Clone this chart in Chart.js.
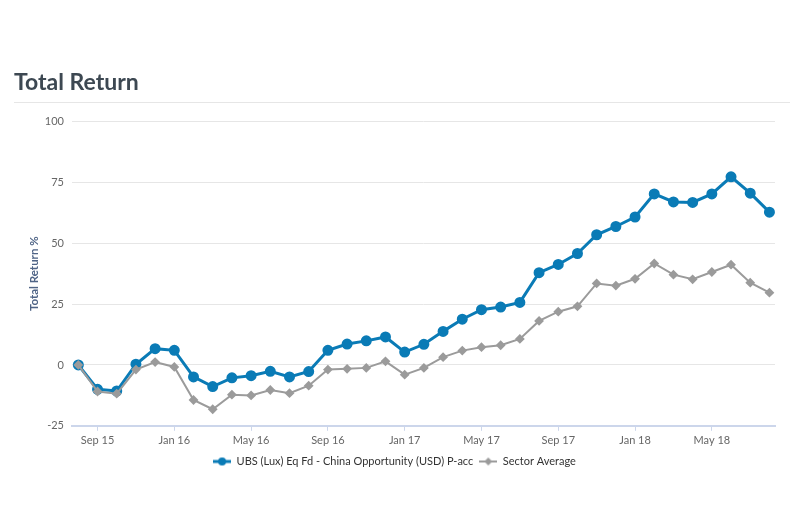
<!DOCTYPE html>
<html><head><meta charset="utf-8">
<script src="https://cdn.jsdelivr.net/npm/chart.js@4/dist/chart.umd.min.js"></script>
<style>html,body{margin:0;padding:0;background:#fff}#wrap{width:790px;height:527px;position:relative}</style>
</head><body><div id="wrap"><canvas id="c"></canvas></div>
<script>
const months = ['Aug 15','Sep 15','Oct 15','Nov 15','Dec 15','Jan 16','Feb 16','Mar 16','Apr 16','May 16','Jun 16','Jul 16','Aug 16','Sep 16','Oct 16','Nov 16','Dec 16','Jan 17','Feb 17','Mar 17','Apr 17','May 17','Jun 17','Jul 17','Aug 17','Sep 17','Oct 17','Nov 17','Dec 17','Jan 18','Feb 18','Mar 18','Apr 18','May 18','Jun 18','Jul 18','Aug 18'];
const tickLabels = ['Sep 15','Jan 16','May 16','Sep 16','Jan 17','May 17','Sep 17','Jan 18','May 18'];
const fundValues = [0,-10.0,-10.7,0.3,6.7,6.0,-4.9,-8.9,-5.3,-4.4,-2.6,-4.9,-2.7,6.0,8.6,9.9,11.5,5.3,8.5,13.8,18.8,22.7,23.8,25.7,37.9,41.3,45.8,53.5,56.9,60.8,70.3,67.0,66.8,70.3,77.3,70.6,62.8];
const sectorValues = [0,-10.9,-11.8,-1.9,1.2,-0.8,-14.4,-18.2,-12.2,-12.5,-10.3,-11.6,-8.5,-1.9,-1.6,-1.2,1.5,-4.0,-1.2,3.2,5.9,7.3,8.1,10.7,18.1,21.9,24.1,33.5,32.6,35.4,41.7,37.1,35.2,38.2,41.2,33.8,29.7];
const seriesNames = ['UBS (Lux) Eq Fd - China Opportunity (USD) P-acc','Sector Average'];
const yMin = -25, yMax = 100, yStep = 25;

const BLUE = '#0a7bb6', GREY = '#9b9b9b';
const FONT = 'Lato';

function legendMarker(color, style) {
  const c = document.createElement('canvas'); c.width = 18; c.height = 10;
  const g = c.getContext('2d');
  g.strokeStyle = color; g.lineWidth = style === 'circle' ? 3 : 2;
  g.beginPath(); g.moveTo(0, 5); g.lineTo(18, 5); g.stroke();
  g.fillStyle = color; g.beginPath();
  if (style === 'circle') g.arc(9, 5, 4, 0, Math.PI * 2);
  else { g.moveTo(9, 1); g.lineTo(13, 5); g.lineTo(9, 9); g.lineTo(5, 5); g.closePath(); }
  g.fill();
  return c;
}
const markers = [legendMarker(BLUE, 'circle'), legendMarker(GREY, 'diamond')];

const separator = {
  id: 'separator',
  beforeDraw(chart) {
    const ctx = chart.ctx;
    ctx.save();
    ctx.strokeStyle = '#e6e6e6'; ctx.lineWidth = 1;
    ctx.beginPath(); ctx.moveTo(14, 102.5); ctx.lineTo(790, 102.5); ctx.stroke();
    ctx.restore();
  }
};

new Chart(document.getElementById('c'), {
  type: 'line',
  data: {
    datasets: [
      {
        label: seriesNames[0],
        data: fundValues.map((v, i) => ({x: i, y: v})),
        borderColor: BLUE, backgroundColor: BLUE,
        borderWidth: 3, pointRadius: 4, pointHoverRadius: 4,
        pointStyle: 'circle', tension: 0, order: 1
      },
      {
        label: seriesNames[1],
        data: sectorValues.map((v, i) => ({x: i, y: v})),
        borderColor: GREY, backgroundColor: GREY,
        borderWidth: 2, pointRadius: 3.5, pointHoverRadius: 3.5,
        pointStyle: 'rectRot', tension: 0, order: 0
      }
    ]
  },
  options: {
    responsive: true, maintainAspectRatio: false, animation: false,
    layout: {padding: {left: 14, right: 15, top: 0, bottom: 50}},
    scales: {
      x: {
        type: 'linear', min: -0.33, max: 36.29,
        afterBuildTicks: s => { s.ticks = tickLabels.map(l => ({value: months.indexOf(l)})); },
        ticks: {
          autoSkip: false, maxRotation: 0, padding: 3,
          color: '#666', font: {family: FONT, size: 11},
          callback: v => months[v]
        },
        grid: {drawOnChartArea: false, drawTicks: true, tickLength: 5, color: '#ccd6eb'},
        border: {color: '#ccd6eb', width: 2}
      },
      y: {
        min: yMin, max: yMax,
        ticks: {stepSize: yStep, padding: 8, color: '#666', font: {family: FONT, size: 11}},
        grid: {color: '#e6e6e6', drawTicks: false, tickLength: 0},
        border: {display: false},
        title: {display: true, text: 'Total Return %', color: '#4f6486',
                font: {family: FONT, size: 11.5, weight: 'bold'}, padding: {top: 13, bottom: 0}},
        afterFit: s => { s.width = 58; }
      }
    },
    plugins: {
      title: {
        display: true, text: 'Total Return', align: 'start', color: '#3d4852',
        font: {family: FONT, size: 23, weight: 'bold'}, padding: {top: 69, bottom: 25}
      },
      legend: {
        position: 'bottom',
        labels: {
          usePointStyle: true, pointStyleWidth: 18, padding: 6,
          color: '#333', font: {family: FONT, size: 11},
          generateLabels: chart => chart.data.datasets.map((ds, i) => ({
            text: ds.label, fillStyle: ds.borderColor, strokeStyle: ds.borderColor,
            lineWidth: 0, pointStyle: markers[i], hidden: false, datasetIndex: i, fontColor: '#333'
          }))
        }
      },
      tooltip: {enabled: false}
    }
  },
  plugins: [separator]
});
</script>
</body></html>
